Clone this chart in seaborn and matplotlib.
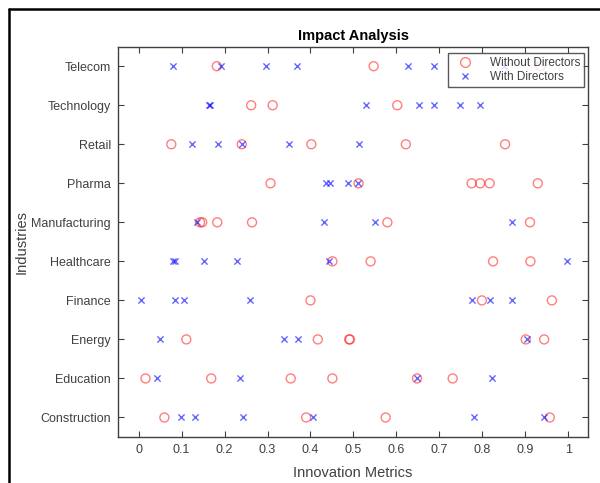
import numpy as np
import pandas as pd
import matplotlib
matplotlib.use("Agg")
import matplotlib.pyplot as plt
import seaborn as sns
from matplotlib.lines import Line2D

industries = ["Construction", "Education", "Energy", "Finance", "Healthcare",
              "Manufacturing", "Pharma", "Retail", "Technology", "Telecom"]

without_directors = [
    [0.060, 0.390, 0.575, 0.957],
    [0.016, 0.169, 0.354, 0.451, 0.648, 0.731],
    [0.111, 0.417, 0.490, 0.492, 0.901, 0.944],
    [0.400, 0.799, 0.962],
    [0.451, 0.540, 0.825, 0.912],
    [0.143, 0.148, 0.183, 0.264, 0.579, 0.911],
    [0.307, 0.512, 0.775, 0.795, 0.817, 0.929],
    [0.076, 0.240, 0.402, 0.622, 0.853],
    [0.262, 0.312, 0.602],
    [0.182, 0.547, 0.935],
]

with_directors = [
    [0.098, 0.132, 0.243, 0.405, 0.780, 0.943],
    [0.043, 0.235, 0.648, 0.822],
    [0.050, 0.339, 0.370, 0.903],
    [0.005, 0.085, 0.106, 0.260, 0.775, 0.818, 0.869],
    [0.079, 0.084, 0.153, 0.230, 0.443, 0.996],
    [0.136, 0.431, 0.550, 0.869],
    [0.436, 0.446, 0.487, 0.510],
    [0.124, 0.185, 0.240, 0.350, 0.514],
    [0.163, 0.165, 0.529, 0.653, 0.688, 0.749, 0.795],
    [0.081, 0.191, 0.297, 0.368, 0.626, 0.688, 0.850],
]

x_ticks = [0, 0.1, 0.2, 0.3, 0.4, 0.5, 0.6, 0.7, 0.8, 0.9, 1]
x_tick_labels = ["0", "0.1", "0.2", "0.3", "0.4", "0.5", "0.6", "0.7", "0.8", "0.9", "1"]


def long_form(series):
    rows = []
    for i, vals in enumerate(series):
        for v in vals:
            rows.append({"Innovation Metrics": v, "pos": i, "Industry": industries[i]})
    return pd.DataFrame(rows)


df_wo = long_form(without_directors)
df_w = long_form(with_directors)

sns.set_style("white")
plt.rcParams["font.family"] = ["Liberation Sans", "DejaVu Sans"]
plt.rcParams.update({
    "xtick.direction": "in", "ytick.direction": "in",
    "xtick.bottom": True, "xtick.top": True,
    "ytick.left": True, "ytick.right": True,
})

fig = plt.figure(figsize=(6.0, 4.83), dpi=100)
ax = fig.add_axes([118 / 600, 1 - 437 / 483, (588 - 118) / 600, (437 - 46.7) / 483])

red = (1.0, 0.0, 0.0, 0.5)
blue = (0.0, 0.0, 1.0, 0.6)

sns.scatterplot(data=df_wo, x="Innovation Metrics", y="pos", marker="o", s=42,
                color="red", ax=ax, legend=False, zorder=3)
coll = ax.collections[-1]
coll.set_facecolor("none")
coll.set_edgecolor(red)
coll.set_linewidth(1.0)

sns.scatterplot(data=df_w, x="Innovation Metrics", y="pos", marker="x", s=20,
                color=blue, linewidth=1.0, ax=ax, legend=False, zorder=4)

ax.set_xlim(-0.048, 1.046)
ax.set_ylim(-0.5, 9.5)
ax.set_xticks(x_ticks)
ax.set_xticklabels(x_tick_labels)
ax.set_yticks(range(len(industries)))
ax.set_yticklabels(industries)

text_col = "#404040"
ax.tick_params(axis="both", which="both", direction="in", length=4.5, width=0.8,
               colors="#404040", labelcolor=text_col, labelsize=9,
               top=True, right=True, bottom=True, left=True,
               labeltop=False, labelright=False, pad=5)
for sp in ax.spines.values():
    sp.set_color("#404040")
    sp.set_linewidth(1.0)

ax.set_xlabel("Innovation Metrics", fontsize=10.5, color=text_col)
ax.set_ylabel("Industries", fontsize=10.5, color=text_col)
ax.xaxis.set_label_coords(0.5, -0.074)
ax.yaxis.set_label_coords(-0.19, 0.5)
ax.set_title("Impact Analysis", fontsize=10.5, fontweight="bold", color="black", pad=5)

handles = [
    Line2D([], [], linestyle="none", marker="o", markersize=7, markerfacecolor="none",
           markeredgecolor=red, markeredgewidth=1.0),
    Line2D([], [], linestyle="none", marker="x", markersize=5, color=blue,
           markeredgewidth=1.0),
]
leg = ax.legend(handles, ["Without Directors", "With Directors"], loc="upper right",
                bbox_to_anchor=(0.9915, 0.983), fontsize=8.5, frameon=True, fancybox=False,
                borderpad=0.3, labelspacing=0.2, handletextpad=0.9, handlelength=2.4,
                borderaxespad=0.0)
leg.get_frame().set_edgecolor("#303030")
leg.get_frame().set_linewidth(1.0)
for t in leg.get_texts():
    t.set_color(text_col)

# outer screenshot frame
fig.add_artist(Line2D([9 / 600, 9 / 600], [0, 1 - 9 / 483], transform=fig.transFigure,
                      color="black", linewidth=1.8))
fig.add_artist(Line2D([9 / 600, 1], [1 - 9 / 483, 1 - 9 / 483], transform=fig.transFigure,
                      color="black", linewidth=1.8))

fig.savefig("out.png", dpi=100)
